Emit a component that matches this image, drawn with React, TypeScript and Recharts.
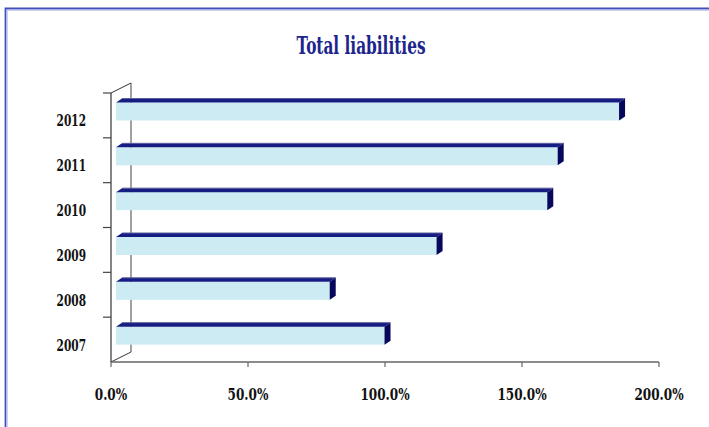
import React from "react";
import { BarChart, Bar, XAxis, YAxis } from "recharts";

const YEARS = ["2007", "2008", "2009", "2010", "2011", "2012"];
const LIABILITIES = [98, 78, 117, 157.4, 161.2, 183.6];
const X_TICKS = [0, 50, 100, 150, 200];

const data = YEARS.map((year, i) => ({ year, value: LIABILITIES[i] }));

// plot frame (front wall)
const W = 709;
const H = 427;
const PLOT_LEFT = 111;
const PLOT_RIGHT = 659;
const PLOT_TOP = 93;
const PLOT_BOTTOM = 362;
const DEPTH_X = 20;
const DEPTH_Y = -10;

const FONT = "'DejaVu Serif', serif";

const Bar3D = (props: any) => {
  const { x, y, width, height } = props;
  if (width == null || width <= 0) return null;
  const fx = x + 5;
  const fy = y - 3.5;
  const dx = 6;
  const dy = -4;
  return (
    <g>
      <rect x={fx} y={fy} width={width} height={height} fill="#CCEBF2" />
      <polygon
        points={`${fx},${fy} ${fx + width},${fy} ${fx + width + dx},${fy + dy} ${fx + dx},${fy + dy}`}
        fill="#161D82"
      />
      <line
        x1={fx + dx}
        y1={fy + dy}
        x2={fx + width + dx}
        y2={fy + dy}
        stroke="#5B5F9C"
        strokeWidth={1}
      />
      <polygon
        points={`${fx + width},${fy} ${fx + width + dx},${fy + dy} ${fx + width + dx},${fy + dy + height} ${fx + width},${fy + height}`}
        fill="#07075C"
      />
    </g>
  );
};

const YTick = (props: any) => {
  const { y, payload } = props;
  const band = (PLOT_BOTTOM - PLOT_TOP) / YEARS.length;
  const by = y - band / 2;
  return (
    <g>
      <line x1={PLOT_LEFT - 8} y1={by} x2={PLOT_LEFT} y2={by} stroke="#444" strokeWidth={1.2} />
      <g transform={`translate(86,${y + 11}) scale(0.66,1)`}>
        <text x={0} y={0} textAnchor="end" fontFamily={FONT} fontWeight="bold" fontSize={16} fill="#111">
          {payload.value}
        </text>
      </g>
    </g>
  );
};

const XTick = (props: any) => {
  const { x, payload } = props;
  return (
    <g transform={`translate(${x},${PLOT_BOTTOM + 37.5}) scale(0.71,1)`}>
      <text x={0} y={0} textAnchor="middle" fontFamily={FONT} fontWeight="bold" fontSize={17} fill="#111">
        {Number(payload.value).toFixed(1) + "%"}
      </text>
    </g>
  );
};

export default function App() {
  return (
    <div
      style={{
        position: "fixed",
        left: 0,
        top: 0,
        width: W,
        height: H,
        background: "#FFFFFF",
        overflow: "hidden",
      }}
    >
      {/* frame, title and back wall behind the bars */}
      <svg width={W} height={H} style={{ position: "absolute", left: 0, top: 0 }}>
        <path d={`M5.5,${H + 5} L5.5,8.5 L${W + 5},8.5`} fill="none" stroke="#3F4FBE" strokeWidth={1.8} />
        <path d={`M7.2,${H + 5} L7.2,10.2 L${W + 5},10.2`} fill="none" stroke="#B4BCEB" strokeWidth={1} />
        <g transform="translate(361,54)">
          <text
            x={0}
            y={0}
            textAnchor="middle"
            fontFamily={FONT}
            fontWeight="bold"
            fontSize={24}
            fill="#1C258C"
            textLength={129}
            lengthAdjust="spacingAndGlyphs"
          >
            Total liabilities
          </text>
        </g>
        <line
          x1={PLOT_LEFT + DEPTH_X}
          y1={PLOT_TOP + DEPTH_Y}
          x2={PLOT_LEFT + DEPTH_X}
          y2={PLOT_BOTTOM + DEPTH_Y}
          stroke="#6E6E6E"
          strokeWidth={1.3}
        />
        <line x1={PLOT_LEFT} y1={PLOT_TOP} x2={PLOT_LEFT + DEPTH_X} y2={PLOT_TOP + DEPTH_Y} stroke="#333" strokeWidth={1} />
        <line
          x1={PLOT_LEFT}
          y1={PLOT_BOTTOM}
          x2={PLOT_LEFT + DEPTH_X}
          y2={PLOT_BOTTOM + DEPTH_Y}
          stroke="#333"
          strokeWidth={1}
        />
      </svg>
      <div style={{ position: "absolute", left: 0, top: 0 }}>
        <BarChart
          width={W}
          height={H}
          data={data}
          layout="vertical"
          margin={{ top: PLOT_TOP, right: W - PLOT_RIGHT, left: 0, bottom: 0 }}
          barCategoryGap={0}
        >
          <XAxis
            type="number"
            domain={[0, 200]}
            ticks={X_TICKS}
            interval={0}
            height={H - PLOT_BOTTOM}
            axisLine={{ stroke: "#666", strokeWidth: 1.5 }}
            tickLine={{ stroke: "#666", strokeWidth: 1.2 }}
            tickSize={5}
            tick={<XTick />}
          />
          <YAxis
            type="category"
            dataKey="year"
            reversed
            width={PLOT_LEFT}
            axisLine={{ stroke: "#333", strokeWidth: 1.2 }}
            tickLine={false}
            tick={<YTick />}
            interval={0}
          />
          <Bar dataKey="value" barSize={18} shape={<Bar3D />} isAnimationActive={false} />
        </BarChart>
      </div>
    </div>
  );
}
